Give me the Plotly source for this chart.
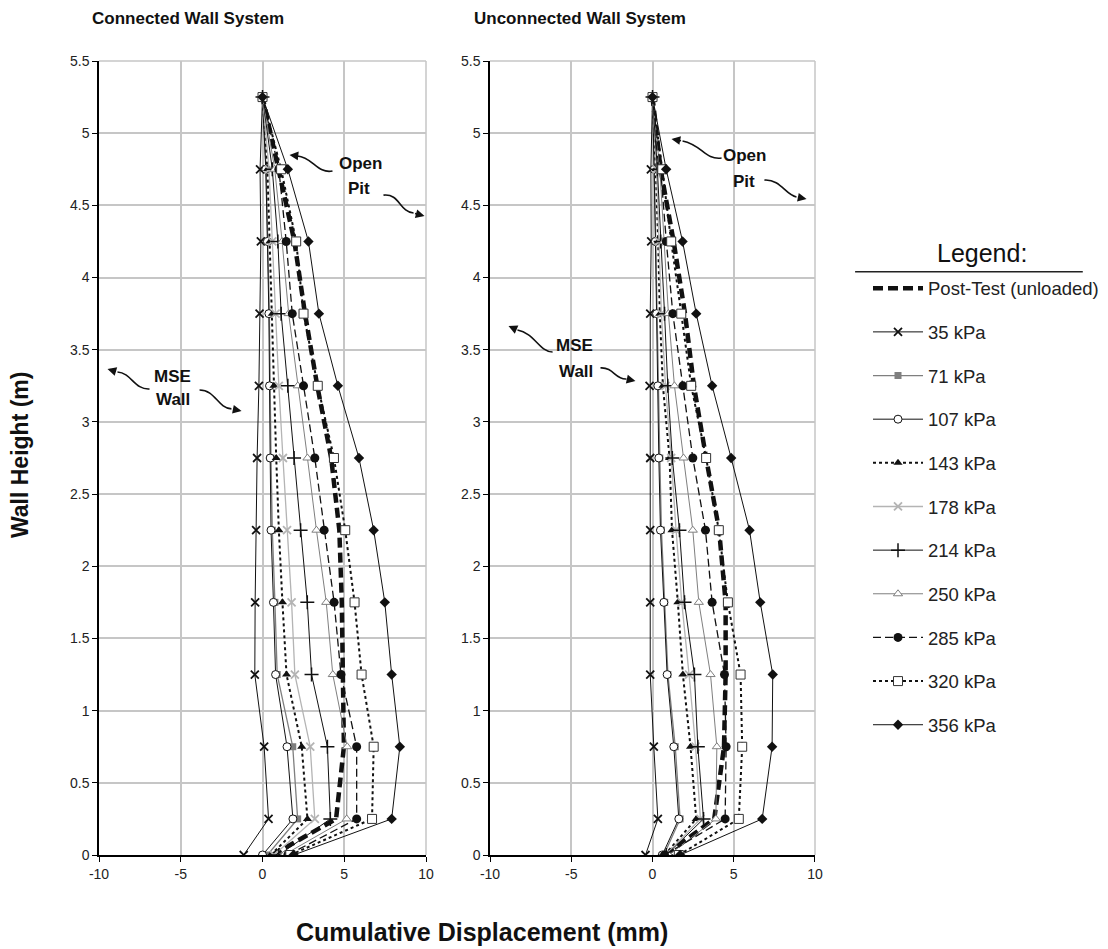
import plotly.graph_objects as go

# ---------------- data ----------------
heights = [0, 0.25, 0.75, 1.25, 1.75, 2.25, 2.75, 3.25, 3.75, 4.25, 4.75, 5.25]

series_names = ["Post-Test (unloaded)", "35 kPa", "71 kPa", "107 kPa", "143 kPa", "178 kPa",
                "214 kPa", "250 kPa", "285 kPa", "320 kPa", "356 kPa"]

# Connected wall system (left panel), displacement in mm
conn_post = [0.6, 4.5, 4.98, 4.92, 4.85, 4.7, 4.2, 3.35, 2.6, 1.95, 1.0, 0.0]
conn_35 = [-1.15, 0.37, 0.1, -0.47, -0.45, -0.39, -0.33, -0.22, -0.18, -0.1, -0.15, 0.0]
conn_71 = [0.3, 2.15, 1.85, 0.9, 0.76, 0.6, 0.52, 0.47, 0.42, 0.32, 0.22, 0.0]
conn_107 = [0.0, 1.86, 1.5, 0.8, 0.67, 0.52, 0.47, 0.43, 0.39, 0.3, 0.2, 0.0]
conn_143 = [0.5, 2.75, 2.4, 1.47, 1.22, 1.0, 0.84, 0.7, 0.6, 0.45, 0.3, 0.0]
conn_178 = [0.7, 3.2, 2.92, 1.98, 1.78, 1.5, 1.25, 1.0, 0.8, 0.6, 0.4, 0.0]
conn_214 = [1.0, 4.15, 3.97, 3.0, 2.74, 2.33, 1.93, 1.55, 1.14, 0.94, 0.6, 0.0]
conn_250 = [1.3, 5.15, 5.18, 4.3, 3.9, 3.3, 2.75, 2.16, 1.6, 1.2, 0.75, 0.0]
conn_285 = [1.55, 5.76, 5.76, 4.8, 4.38, 3.77, 3.2, 2.51, 1.82, 1.45, 1.0, 0.0]
conn_320 = [1.7, 6.7, 6.8, 6.06, 5.63, 5.06, 4.37, 3.38, 2.51, 2.06, 1.14, 0.0]
conn_356 = [1.9, 7.9, 8.4, 7.9, 7.48, 6.8, 5.9, 4.61, 3.45, 2.81, 1.55, 0.0]

# Unconnected wall system (right panel)
unc_post = [0.8, 3.8, 4.4, 4.5, 4.5, 4.1, 3.3, 2.55, 2.0, 1.3, 0.5, 0.0]
unc_35 = [-0.43, 0.33, 0.08, -0.14, -0.14, -0.14, -0.14, -0.18, -0.14, -0.08, -0.1, 0.0]
unc_71 = [0.7, 1.7, 1.4, 0.95, 0.75, 0.55, 0.45, 0.38, 0.3, 0.2, 0.1, 0.0]
unc_107 = [0.6, 1.62, 1.31, 0.9, 0.7, 0.49, 0.39, 0.33, 0.25, 0.18, 0.1, 0.0]
unc_143 = [0.75, 2.69, 2.34, 1.87, 1.56, 1.2, 1.05, 0.64, 0.45, 0.35, 0.2, 0.0]
unc_178 = [0.8, 2.95, 2.65, 2.25, 1.8, 1.45, 1.15, 0.8, 0.55, 0.4, 0.25, 0.0]
unc_214 = [0.85, 3.14, 2.79, 2.58, 1.97, 1.66, 1.22, 0.94, 0.74, 0.5, 0.3, 0.0]
unc_250 = [1.0, 3.9, 3.96, 3.57, 2.85, 2.48, 1.91, 1.35, 0.98, 0.7, 0.45, 0.0]
unc_285 = [0.74, 4.47, 4.53, 4.43, 3.67, 3.26, 2.48, 1.87, 1.25, 0.85, 0.5, 0.0]
unc_320 = [1.62, 5.31, 5.52, 5.42, 4.64, 4.08, 3.3, 2.38, 1.77, 1.15, 0.6, 0.0]
unc_356 = [1.7, 6.75, 7.36, 7.4, 6.63, 5.97, 4.84, 3.67, 2.69, 1.85, 0.84, 0.0]

x_tick_vals = [-10, -5, 0, 5, 10]
x_tick_text = ["-10", "-5", "0", "5", "10"]
y_tick_vals = [0, 0.5, 1, 1.5, 2, 2.5, 3, 3.5, 4, 4.5, 5, 5.5]
y_tick_text = ["0", "0.5", "1", "1.5", "2", "2.5", "3", "3.5", "4", "4.5", "5", "5.5"]

connected = [conn_post, conn_35, conn_71, conn_107, conn_143, conn_178,
             conn_214, conn_250, conn_285, conn_320, conn_356]
unconnected = [unc_post, unc_35, unc_71, unc_107, unc_143, unc_178,
               unc_214, unc_250, unc_285, unc_320, unc_356]

# ---------------- styles ----------------
BLK = "#111111"
GRY = "#7f7f7f"
LGR = "#b4b4b4"
styles = [
    dict(mode="lines", line=dict(color=BLK, width=4.5, dash="10px,5px"), marker=None),
    dict(mode="lines+markers", line=dict(color=BLK, width=1),
         marker=dict(symbol="x-thin", size=8, line=dict(color=BLK, width=1.8))),
    dict(mode="lines+markers", line=dict(color=GRY, width=1.3),
         marker=dict(symbol="square", size=7, color=GRY)),
    dict(mode="lines+markers", line=dict(color=BLK, width=1),
         marker=dict(symbol="circle", size=8, color="white", line=dict(color=BLK, width=1))),
    dict(mode="lines+markers", line=dict(color=BLK, width=2, dash="dot"),
         marker=dict(symbol="triangle-up", size=8, color=BLK)),
    dict(mode="lines+markers", line=dict(color=LGR, width=1.3),
         marker=dict(symbol="x-thin", size=8, line=dict(color=LGR, width=1.8))),
    dict(mode="lines+markers", line=dict(color=BLK, width=1),
         marker=dict(symbol="cross-thin", size=10, line=dict(color=BLK, width=1.5))),
    dict(mode="lines+markers", line=dict(color=GRY, width=1),
         marker=dict(symbol="triangle-up", size=8, color="white", line=dict(color=GRY, width=1))),
    dict(mode="lines+markers", line=dict(color=BLK, width=1.3, dash="8px,4px"),
         marker=dict(symbol="circle", size=9, color=BLK)),
    dict(mode="lines+markers", line=dict(color=BLK, width=2, dash="dot"),
         marker=dict(symbol="square", size=9, color="white", line=dict(color="#333333", width=1))),
    dict(mode="lines+markers", line=dict(color=BLK, width=1),
         marker=dict(symbol="diamond", size=8, color=BLK)),
]

fig = go.Figure()

for panel, (data, xa, ya) in enumerate([(connected, "x", "y"), (unconnected, "x2", "y2")]):
    for i, (name, vals, st) in enumerate(zip(series_names, data, styles)):
        kw = dict(x=vals, y=heights, name=name, mode=st["mode"], line=st["line"],
                  xaxis=xa, yaxis=ya, showlegend=(panel == 0), legendgroup=f"g{i}",
                  hoverinfo="x+y+name")
        if st["marker"] is not None:
            kw["marker"] = st["marker"]
        fig.add_trace(go.Scatter(**kw))

FONT = "Arial, Liberation Sans, sans-serif"
grid = "#c6c6c6"
axis_common = dict(showgrid=True, gridcolor=grid, gridwidth=1.5, zeroline=False,
                   showline=True, linecolor="#000000", linewidth=1.5,
                   ticks="outside", ticklen=5, tickcolor="#000000", tickwidth=1,
                   tickfont=dict(family=FONT, size=14, color="#222222"))

fig.update_layout(
    width=1108, height=949,
    margin=dict(l=99, r=293, t=61, b=94),
    paper_bgcolor="white", plot_bgcolor="white",
    xaxis=dict(domain=[0, 0.4567], range=[-10, 10], tickvals=x_tick_vals, ticktext=x_tick_text,
               anchor="y", **axis_common),
    yaxis=dict(domain=[0, 1], range=[0, 5.5], tickvals=y_tick_vals, ticktext=y_tick_text,
               anchor="x", **axis_common),
    xaxis2=dict(domain=[0.5461, 1], range=[-10, 10], tickvals=x_tick_vals, ticktext=x_tick_text,
                anchor="y2", **axis_common),
    yaxis2=dict(domain=[0, 1], range=[0, 5.5], tickvals=y_tick_vals, ticktext=y_tick_text,
                anchor="x2", **axis_common),
    legend=dict(xref="container", yref="container", x=0.7834, y=0.7158,
                xanchor="left", yanchor="top",
                font=dict(family=FONT, size=18.5, color="#222222"),
                itemwidth=50, tracegroupgap=16.6, traceorder="grouped",
                maxheight=900, bgcolor="rgba(0,0,0,0)"),
    showlegend=True,
)

# border lines (right & top) in gray
for xr, yr in [("x domain", "y domain"), ("x2 domain", "y2 domain")]:
    fig.add_shape(type="line", xref=xr, yref=yr, x0=1, x1=1, y0=0, y1=1,
                  line=dict(color=grid, width=1.5))
    fig.add_shape(type="line", xref=xr, yref=yr, x0=0, x1=1, y0=1, y1=1,
                  line=dict(color=grid, width=1.5))

# legend underline
fig.add_shape(type="line", xref="paper", yref="paper", x0=1.056, x1=1.374, y0=0.7346, y1=0.7346,
              line=dict(color="#222222", width=1.5))

# titles
ann = []
ann.append(dict(text="Legend:", xref="paper", yref="paper", x=1.233, y=0.758,
                xanchor="center", yanchor="middle", showarrow=False,
                font=dict(family=FONT, size=25, color="#111111")))
ann.append(dict(text="<b>Connected Wall System</b>", xref="paper", yref="paper",
                x=-0.0126, y=1.0, yshift=43, xanchor="left", yanchor="middle", showarrow=False,
                font=dict(family=FONT, size=17, color="#111111")))
ann.append(dict(text="<b>Unconnected Wall System</b>", xref="paper", yref="paper",
                x=0.5209, y=1.0, yshift=43, xanchor="left", yanchor="middle", showarrow=False,
                font=dict(family=FONT, size=17, color="#111111")))
ann.append(dict(text="<b>Wall Height (m)</b>", xref="paper", yref="paper", x=-0.11, y=0.504,
                xanchor="center", yanchor="middle",
                textangle=-90, showarrow=False, font=dict(family=FONT, size=23, color="#111111")))
ann.append(dict(text="<b>Cumulative Displacement (mm)</b>", xref="paper", yref="paper",
                x=0.535, y=0, yshift=-77, xanchor="center", yanchor="middle", showarrow=False,
                font=dict(family=FONT, size=25, color="#111111")))

label_font = dict(family=FONT, size=17, color="#111111")
# text labels: (axis suffix, x, y, text)
labels = [("", 5.99, 4.79, "Open"), ("", 5.93, 4.62, "Pit"),
          ("", -5.50, 3.318, "MSE"), ("", -5.50, 3.152, "Wall"),
          ("2", 5.66, 4.842, "Open"), ("2", 5.66, 4.662, "Pit"),
          ("2", -4.80, 3.526, "MSE"), ("2", -4.68, 3.346, "Wall")]
for s, x, y, t in labels:
    ann.append(dict(text=f"<b>{t}</b>", xref="x" + s, yref="y" + s, x=x, y=y,
                    showarrow=False, font=label_font))

# wavy arrows: (axis suffix, path, tip x, tip y, ax, ay)
arrows = [
    ("", "M 4.28,4.738 C 3.36,4.717 3.06,4.835 2.14,4.842", 1.65, 4.849, 9, 1),
    ("", "M 7.40,4.571 C 8.38,4.585 8.38,4.454 9.24,4.447", 9.91, 4.426, -11, -3),
    ("", "M -6.91,3.228 C -7.83,3.221 -8.01,3.339 -8.87,3.346", -9.48, 3.367, 10, 3),
    ("", "M -3.85,3.221 C -2.87,3.221 -2.75,3.096 -1.90,3.09", -1.28, 3.076, -10, -2),
    ("2", "M 4.25,4.828 C 3.2,4.814 3.08,4.918 1.85,4.946", 1.17, 4.96, 11, 2),
    ("2", "M 6.89,4.675 C 7.88,4.682 8.18,4.572 8.86,4.558", 9.48, 4.544, -10, -2),
    ("2", "M -6.15,3.484 C -6.95,3.484 -7.26,3.616 -8.31,3.637", -8.86, 3.664, 9, 4),
    ("2", "M -3.2,3.374 C -2.4,3.38 -2.28,3.29 -1.6,3.297", -1.05, 3.283, -9, -2),
]
for s, path, tx, ty, ax, ay in arrows:
    fig.add_shape(type="path", xref="x" + s, yref="y" + s, path=path,
                  line=dict(color="#111111", width=1.6))
    ann.append(dict(text="", xref="x" + s, yref="y" + s, x=tx, y=ty, ax=ax, ay=ay,
                    showarrow=True, arrowhead=2, arrowsize=1.1, arrowwidth=1.6,
                    arrowcolor="#111111"))

fig.update_layout(annotations=ann)

fig.write_html("out.html", config={"displayModeBar": False},
               post_script="document.body.style.margin='0px';document.body.style.overflow='hidden';")
